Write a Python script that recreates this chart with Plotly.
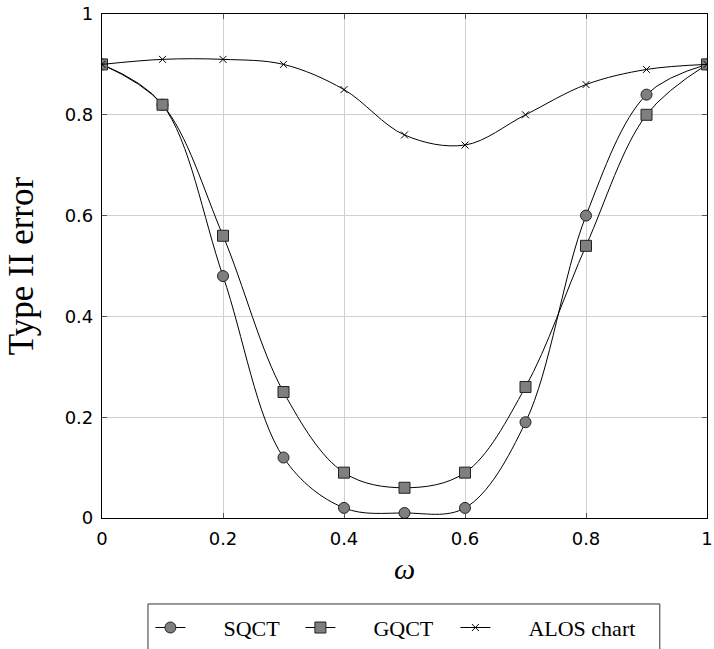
import plotly.graph_objects as go

omega = [0, 0.1, 0.2, 0.3, 0.4, 0.5, 0.6, 0.7, 0.8, 0.9, 1.0]
sqct = [0.90, 0.82, 0.48, 0.12, 0.02, 0.01, 0.02, 0.19, 0.60, 0.84, 0.90]
gqct = [0.90, 0.82, 0.56, 0.25, 0.09, 0.06, 0.09, 0.26, 0.54, 0.80, 0.90]
alos = [0.90, 0.91, 0.91, 0.90, 0.85, 0.76, 0.74, 0.80, 0.86, 0.89, 0.90]

x_ticks = [0, 0.2, 0.4, 0.6, 0.8, 1]
x_tick_text = ["0", "0.2", "0.4", "0.6", "0.8", "1"]
y_ticks = [0, 0.2, 0.4, 0.6, 0.8, 1]
y_tick_text = ["0", "0.2", "0.4", "0.6", "0.8", "1"]

FILL = "#7f7f7f"
EDGE = "#222222"
serif = "Liberation Serif, DejaVu Serif, serif"
sans = "DejaVu Sans, sans-serif"
NB = "\u00a0"


def entry(label):
    # a gap between the legend glyph and its label, as in a LaTeX legend row
    return NB * 6 + label


fig = go.Figure()
fig.add_trace(go.Scatter(
    x=omega, y=sqct, name=entry("SQCT"), mode="lines+markers", legendwidth=105,
    line=dict(color="black", width=1, shape="spline", smoothing=1),
    marker=dict(symbol="circle", size=11, color=FILL, line=dict(color=EDGE, width=1)),
))
fig.add_trace(go.Scatter(
    x=omega, y=gqct, name=entry("GQCT"), mode="lines+markers", legendwidth=110,
    line=dict(color="black", width=1, shape="spline", smoothing=1),
    marker=dict(symbol="square", size=11, color=FILL, line=dict(color=EDGE, width=1)),
))
fig.add_trace(go.Scatter(
    x=omega, y=alos, name=entry("ALOS chart"), mode="lines+markers", legendwidth=150,
    line=dict(color="black", width=1, shape="spline", smoothing=1),
    marker=dict(symbol="x-thin", size=7, color="black", line=dict(color="black", width=1)),
))

axis_common = dict(
    range=[0, 1], showgrid=True, gridcolor="#d0d0d0", gridwidth=1,
    showline=True, linecolor="black", linewidth=1.2, mirror="allticks",
    ticks="inside", ticklen=5, tickcolor="#555555", zeroline=False,
    tickfont=dict(family=sans, size=18, color="black"),
)

# legend frame (extends past the lower page edge)
fig.add_shape(type="rect", xref="paper", yref="paper",
              x0=0.076, x1=0.922, y0=-0.35, y1=-0.1706,
              line=dict(color="#333333", width=1), fillcolor="white", layer="below")

fig.update_layout(
    width=714, height=649,
    margin=dict(l=102, r=7, t=14, b=131, autoexpand=False),
    paper_bgcolor="white", plot_bgcolor="white",
    xaxis=dict(**axis_common, tickvals=x_ticks, ticktext=x_tick_text,
               ticklabelstandoff=4,
               title=dict(text="<i>ω</i>", font=dict(family=serif, size=30, color="black"), standoff=10)),
    yaxis=dict(**axis_common, tickvals=y_ticks, ticktext=y_tick_text,
               ticklabelstandoff=4,
               title=dict(text="Type II error", font=dict(family=serif, size=35, color="black"), standoff=20)),
    legend=dict(
        orientation="h", x=0.08, xanchor="left", y=-0.176, yanchor="top",
        borderwidth=0, bgcolor="rgba(0,0,0,0)",
        font=dict(family=serif, size=22, color="black"),
    ),
    showlegend=True,
)

fig.write_html("out.html")
